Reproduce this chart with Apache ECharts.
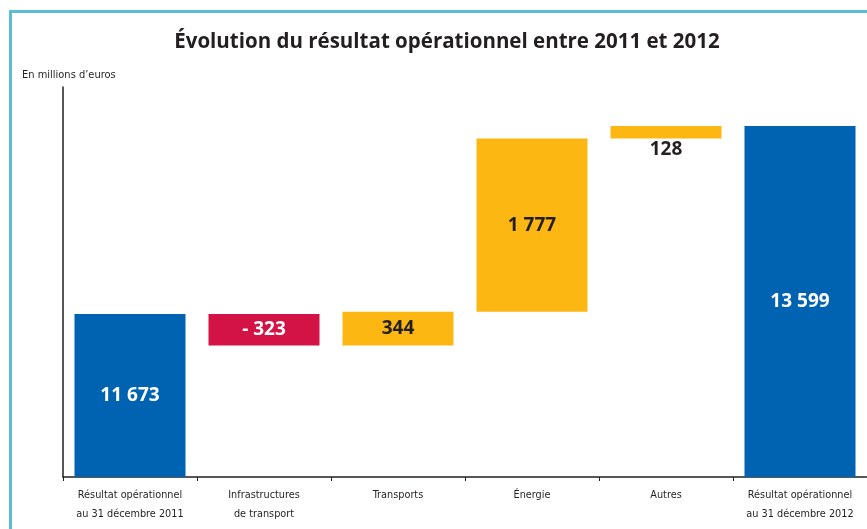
<!DOCTYPE html>
<html><head><meta charset="utf-8">
<script src="https://cdn.jsdelivr.net/npm/echarts@6/dist/echarts.min.js"></script>
<style>html,body{margin:0;padding:0;background:#fff}#c{width:867px;height:529px}
#frame{position:absolute;left:9px;top:10px;width:900px;height:600px;border-left:3px solid #5bbcd6;border-top:3px solid #5bbcd6;pointer-events:none}</style>
</head><body><div id="c"></div><div id="frame"></div>
<script>
const categories = ['Résultat opérationnel\nau 31 décembre 2011','Infrastructures\nde transport','Transports','Énergie','Autres','Résultat opérationnel\nau 31 décembre 2012'];
const changes = [11673, -323, 344, 1777, 128, 13599];
const kinds = ['total','delta','delta','delta','delta','total'];
const valueLabels = ['11 673','- 323','344','1 777','128','13 599'];

const colBlue='#0063b1', colRed='#d31245', colYellow='#fcb713';
const base=[], height=[];
let run=0;
for(let i=0;i<changes.length;i++){
  if(kinds[i]==='total'){ base.push(0); height.push(changes[i]); run=changes[i]; }
  else { const nv=run+changes[i]; base.push(Math.min(run,nv)); height.push(Math.abs(changes[i])); run=nv; }
}
const barData = height.map((h,i)=>{
  const isTotal=kinds[i]==='total', neg=changes[i]<0;
  const color=isTotal?colBlue:(neg?colRed:colYellow);
  const small = i===4;
  return {value:h,itemStyle:{color},label:{show:true,position:small?'bottom':'inside',distance:small?2:5,
    color:(isTotal||neg)?'#ffffff':'#231f20',fontSize:19,fontWeight:'bold',fontFamily:'Open Sans',
    formatter:()=>valueLabels[i]}};
});
const chart=echarts.init(document.getElementById('c'),null,{renderer:'canvas'});
chart.setOption({
  animation:false,
  title:{text:'Évolution du résultat opérationnel entre 2011 et 2012',left:442,textAlign:'center',top:27,
    textStyle:{fontSize:20.5,fontWeight:'bold',color:'#231f20',fontFamily:'Open Sans'}},
  graphic:[{type:'text',left:22,top:70,style:{text:"En millions d’euros",fontSize:11,fill:'#231f20',fontFamily:'DejaVu Sans Condensed'}}],
  grid:{left:63,right:0,top:87,bottom:52},
  xAxis:{type:'category',data:categories,
    axisLine:{lineStyle:{color:'#231f20',width:1.5}},
    axisTick:{show:true,length:4,lineStyle:{color:'#231f20'}},
    axisLabel:{interval:0,fontSize:10.8,lineHeight:19,color:'#231f20',margin:9,fontFamily:'DejaVu Sans Condensed'}},
  yAxis:{type:'value',min:10000,max:14000,
    axisLine:{show:true,lineStyle:{color:'#231f20',width:1.5}},
    axisTick:{show:false},axisLabel:{show:false},splitLine:{show:false}},
  series:[
    {type:'bar',stack:'w',data:base,itemStyle:{color:'transparent'},barWidth:111,silent:true},
    {type:'bar',stack:'w',data:barData,barWidth:111}
  ]
});
</script></body></html>
